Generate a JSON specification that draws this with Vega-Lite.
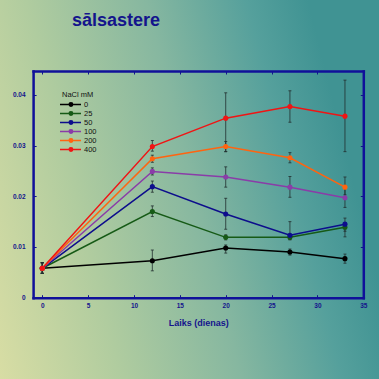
{
  "$schema": "https://vega.github.io/schema/vega-lite/v6.json",
  "width": 379,
  "height": 379,
  "padding": 0,
  "autosize": {"type": "none"},
  "background": "#8ab9a0",
  "view": {
    "stroke": null,
    "fill": {
      "gradient": "linear",
      "x1": 0, "y1": 1, "x2": 1, "y2": 0.75,
      "stops": [
        {"offset": 0, "color": "#d8dda4"},
        {"offset": 0.3, "color": "#b0cc9f"},
        {"offset": 0.6, "color": "#86b7a0"},
        {"offset": 0.85, "color": "#55a09c"},
        {"offset": 1, "color": "#409393"}
      ]
    }
  },
  "title": {
    "text": "sālsastere",
    "anchor": "start",
    "frame": "group",
    "offset": -43.5,
    "dx": 72,
    "baseline": "alphabetic",
    "font": "Liberation Sans",
    "fontSize": 18,
    "fontWeight": "bold",
    "color": "#14148c"
  },
  "data": {
    "values": [
      {"nacl": "0", "day": 0, "mean": 0.0058, "lo": 0.0048, "hi": 0.0069},
      {"nacl": "0", "day": 12, "mean": 0.0073, "lo": 0.0053, "hi": 0.0094},
      {"nacl": "0", "day": 20, "mean": 0.0098, "lo": 0.0088, "hi": 0.0104},
      {"nacl": "0", "day": 27, "mean": 0.0090, "lo": 0.0084, "hi": 0.0096},
      {"nacl": "0", "day": 33, "mean": 0.0077, "lo": 0.0068, "hi": 0.0086},
      {"nacl": "25", "day": 0, "mean": 0.0058, "lo": 0.0048, "hi": 0.0069},
      {"nacl": "25", "day": 12, "mean": 0.0170, "lo": 0.0160, "hi": 0.0181},
      {"nacl": "25", "day": 20, "mean": 0.0119, "lo": 0.0114, "hi": 0.0124},
      {"nacl": "25", "day": 27, "mean": 0.0119, "lo": 0.0115, "hi": 0.0124},
      {"nacl": "25", "day": 33, "mean": 0.0139, "lo": 0.0131, "hi": 0.0148},
      {"nacl": "50", "day": 0, "mean": 0.0058, "lo": 0.0048, "hi": 0.0069},
      {"nacl": "50", "day": 12, "mean": 0.0219, "lo": 0.0208, "hi": 0.0230},
      {"nacl": "50", "day": 20, "mean": 0.0165, "lo": 0.0135, "hi": 0.0196},
      {"nacl": "50", "day": 27, "mean": 0.0123, "lo": 0.0114, "hi": 0.0150},
      {"nacl": "50", "day": 33, "mean": 0.0145, "lo": 0.0120, "hi": 0.0157},
      {"nacl": "100", "day": 0, "mean": 0.0058, "lo": 0.0048, "hi": 0.0069},
      {"nacl": "100", "day": 12, "mean": 0.0249, "lo": 0.0242, "hi": 0.0256},
      {"nacl": "100", "day": 20, "mean": 0.0238, "lo": 0.0218, "hi": 0.0258},
      {"nacl": "100", "day": 27, "mean": 0.0218, "lo": 0.0198, "hi": 0.0239},
      {"nacl": "100", "day": 33, "mean": 0.0197, "lo": 0.0178, "hi": 0.0216},
      {"nacl": "200", "day": 0, "mean": 0.0058, "lo": 0.0048, "hi": 0.0069},
      {"nacl": "200", "day": 12, "mean": 0.0274, "lo": 0.0267, "hi": 0.0281},
      {"nacl": "200", "day": 20, "mean": 0.0298, "lo": 0.0288, "hi": 0.0308},
      {"nacl": "200", "day": 27, "mean": 0.0276, "lo": 0.0266, "hi": 0.0286},
      {"nacl": "200", "day": 33, "mean": 0.0218, "lo": 0.0203, "hi": 0.0238},
      {"nacl": "400", "day": 0, "mean": 0.0058, "lo": 0.0048, "hi": 0.0069},
      {"nacl": "400", "day": 12, "mean": 0.0298, "lo": 0.0289, "hi": 0.0310},
      {"nacl": "400", "day": 20, "mean": 0.0354, "lo": 0.0288, "hi": 0.0404},
      {"nacl": "400", "day": 27, "mean": 0.0377, "lo": 0.0346, "hi": 0.0408},
      {"nacl": "400", "day": 33, "mean": 0.0358, "lo": 0.0288, "hi": 0.0429}
    ]
  },
  "layer": [
    {
      "mark": {"type": "line", "strokeWidth": 1.5},
      "encoding": {
        "x": {
          "field": "day", "type": "quantitative",
          "scale": {"domain": [-1, 35], "range": [33.1, 363.3], "nice": false, "zero": false},
          "axis": {
            "orient": "bottom", "offset": -81.3, "values": [0, 5, 10, 15, 20, 25, 30, 35],
            "title": "Laiks (dienas)", "titleFont": "Liberation Sans", "titleFontSize": 9,
            "titleFontWeight": "bold", "titleColor": "#14148c", "titlePadding": 9,
            "labelFont": "Liberation Sans", "labelFontSize": 6.5, "labelFontWeight": "bold",
            "labelColor": "#14148c", "labelPadding": 8, "labelFlush": false, "labelOverlap": false,
            "tickSize": -3, "tickColor": "#14148c", "tickWidth": 1,
            "domainColor": "#10109a", "domainWidth": 2.5, "domainCap": "square", "grid": false
          }
        },
        "y": {
          "field": "mean", "type": "quantitative",
          "scale": {"domain": [0, 0.0447], "range": [297.7, 71], "nice": false, "zero": false},
          "axis": {
            "orient": "left", "offset": -33.1, "values": [0, 0.01, 0.02, 0.03, 0.04],
            "format": ".2~f", "title": null,
            "labelFont": "Liberation Sans", "labelFontSize": 6.5, "labelFontWeight": "bold",
            "labelColor": "#14148c", "labelPadding": 11, "labelFlush": false, "labelOverlap": false,
            "tickSize": -3, "tickColor": "#14148c", "tickWidth": 1,
            "domainColor": "#10109a", "domainWidth": 2.5, "domainCap": "square", "grid": false
          }
        },
        "color": {
          "field": "nacl", "type": "ordinal",
          "scale": {"domain": ["0", "25", "50", "100", "200", "400"], "range": ["#000000", "#165a16", "#0d0d8c", "#8a3ca8", "#ff6410", "#f01414"]},
          "legend": {
            "orient": "none", "legendX": 62, "legendY": 91,
            "title": "NaCl mM", "titleFont": "Liberation Sans", "titleFontSize": 7.5,
            "titleFontWeight": "normal", "titleColor": "#111111", "titlePadding": 2,
            "labelFont": "Liberation Sans", "labelFontSize": 7.5, "labelColor": "#111111",
            "symbolType": "M-2,0H5M1.08,0A0.58,0.58,0,1,1,2.24,0A0.58,0.58,0,1,1,1.08,0Z",
            "symbolSize": 36, "symbolStrokeWidth": 1.5, "labelOffset": 14,
            "rowPadding": -1, "padding": 0,
            "encode": {"symbols": {"update": {
              "stroke": {"scale": "color", "field": "value"},
              "fill": {"scale": "color", "field": "value"},
              "strokeWidth": {"value": 1.5},
              "opacity": {"value": 1}
            }}}
          }
        }
      }
    },
    {
      "mark": {"type": "errorbar", "ticks": {"size": 3}, "color": "#22302f", "opacity": 0.8},
      "encoding": {
        "x": {"field": "day", "type": "quantitative", "axis": null},
        "y": {"field": "lo", "type": "quantitative", "axis": null},
        "y2": {"field": "hi"}
      }
    },
    {
      "mark": {"type": "point", "filled": true, "size": 26, "opacity": 1},
      "encoding": {
        "x": {
          "field": "day", "type": "quantitative",
          "axis": {
            "orient": "top", "offset": -71, "values": [0, 5, 10, 15, 20, 25, 30, 35],
            "labels": false, "title": null,
            "tickSize": -3, "tickColor": "#14148c", "tickWidth": 1,
            "domainColor": "#10109a", "domainWidth": 2.5, "domainCap": "square", "grid": false
          }
        },
        "y": {
          "field": "mean", "type": "quantitative",
          "axis": {
            "orient": "right", "offset": -15.7, "values": [0, 0.01, 0.02, 0.03, 0.04],
            "labels": false, "title": null,
            "tickSize": -3, "tickColor": "#14148c", "tickWidth": 1,
            "domainColor": "#10109a", "domainWidth": 2.5, "domainCap": "square", "grid": false
          }
        },
        "color": {"field": "nacl", "type": "ordinal"}
      }
    }
  ],
  "resolve": {"axis": {"x": "independent", "y": "independent"}}
}
